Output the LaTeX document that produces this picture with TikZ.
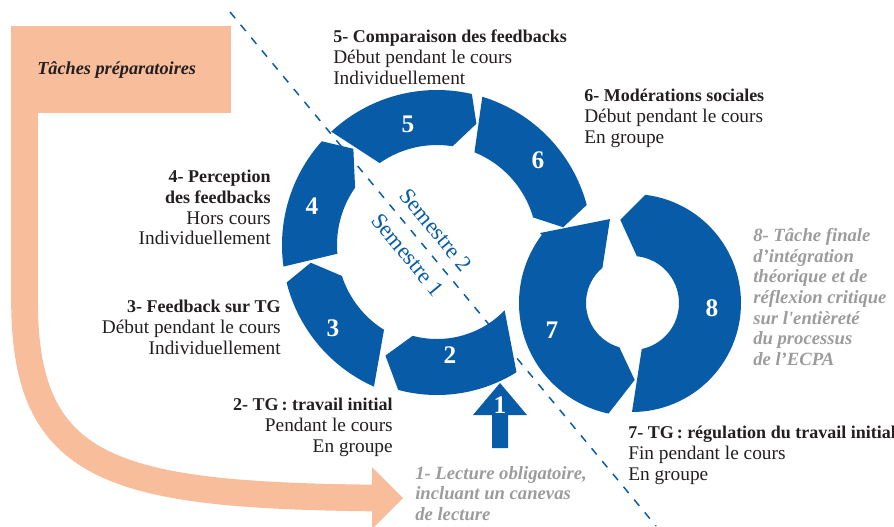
\documentclass[tikz,border=0pt]{standalone}
\usepackage{fontspec}
\setmainfont{Liberation Serif}
\usetikzlibrary{calc}

\definecolor{bleuecpa}{HTML}{075BA7}
\definecolor{saumon}{HTML}{F8BD9B}
\definecolor{grisclair}{HTML}{9D9C9C}
\definecolor{encre}{HTML}{231F20}

\tikzset{
  segment/.style={fill=bleuecpa},
  numero/.style={text=white, inner sep=0pt, font=\bfseries\fontsize{19}{19}\selectfont},
  legende/.style={inner sep=0pt, text=encre, font=\fontsize{14.5}{15.5}\selectfont},
  legendegris/.style={inner sep=0pt, text=grisclair, align=left, font=\bfseries\itshape\fontsize{14}{15.5}\selectfont},
  semestre/.style={text=bleuecpa, rotate=-50.4, inner sep=0pt, font=\fontsize{17}{17}\selectfont},
}

%% ring segment: centre, r in, r out, outer start, outer end, tip, inner end, inner start
\newcommand{\anneau}[8]{%
  \fill[segment] ($(#1)+(#4:#3)$) arc[start angle=#4, end angle=#5, radius=#3]
     -- ($(#1)+(#6:{(#2+#3)/2})$) -- ($(#1)+(#7:#2)$)
     arc[start angle=#7, end angle=#8, radius=#2] -- cycle;}
\newcommand{\titre}[1]{{\bfseries\fontsize{13.5}{15.5}\selectfont #1}}

\begin{document}
\begin{tikzpicture}[x=0.75pt, y=-0.75pt]
  \useasboundingbox (0,0) rectangle (894,526);
  \coordinate (c1) at (437,245);
  \coordinate (c2) at (632,303);

  %% taches preparatoires
  \fill[saumon] (11,26) rectangle (231,113);
  \draw[saumon, line width=20pt] (24.5,100) -- (24.5,300) .. controls (24.5,470) and (110,495) .. (373,498);
  \fill[saumon] (372,467) -- (403,498) -- (372,529) -- cycle;
  \node[anchor=west, inner sep=0pt, text=encre, font=\bfseries\itshape\fontsize{13.7}{15}\selectfont] (prepa) at (37,70) {Tâches préparatoires};

  %% semestres
  \coordinate (semA) at (230,12);
  \coordinate (semB) at (656,526);
  \draw[bleuecpa, line width=1.1pt, dash pattern=on 6pt off 6.5pt] (semA) -- (semB);
  \node[semestre] (sem2) at (436,230) {Semestre 2};
  \node[semestre] (sem1) at (408,255) {Semestre 1};

  %% premier anneau
  \anneau{c1}{94}{150}{58}{105}{115}{105}{44}
  \anneau{c1}{100}{155}{114}{166}{172}{162}{122}
  \anneau{c1}{100}{155}{172}{222}{229}{215}{175}
  \anneau{c1}{100}{155}{227}{283}{288}{279}{235}
  \anneau{c1}{100}{155}{287}{345}{352}{344}{292}

  %% second anneau
  \fill[segment] (540,233) -- (610,219) -- ($(c2)+(230:46)$) arc[start angle=230, end angle=106, radius=46]
     -- ($(c2)+(88:77)$) -- ($(c2)+(102:113)$) arc[start angle=102, end angle=217, radius=113] -- cycle;
  \fill[segment] ($(c2)+(90:109)$) arc[start angle=90, end angle=-83, radius=109]
     -- ($(c2)+(-98:84)$) -- ($(c2)+(-84:47)$) arc[start angle=-84, end angle=78, radius=47] -- cycle;

  %% fleche 1
  \fill[segment] (500,383) -- (527,415) -- (508,415) -- (508,448) -- (492,448) -- (492,415) -- (473,415) -- cycle;

  \node[numero] (n1) at (500,405) {1};
  \node[numero] (n2) at (450,355) {2};
  \node[numero] (n3) at (333,328) {3};
  \node[numero] (n4) at (312,206) {4};
  \node[numero] (n5) at (408,124) {5};
  \node[numero] (n6) at (538,160) {6};
  \node[numero] (n7) at (552,330) {7};
  \node[numero] (n8) at (712,308) {8};

  \node[legende, align=left, anchor=north west] (t5) at (333,30) {\titre{5- Comparaison des feedbacks}\\Début pendant le cours\\Individuellement};
  \node[legende, align=left, anchor=north west] (t6) at (584,89) {\titre{6- Modérations sociales}\\Début pendant le cours\\En groupe};
  \node[legende, align=right, anchor=north east] (t4) at (271,170) {\titre{4- Perception}\\\titre{des feedbacks}\\Hors cours\\Individuellement};
  \node[legende, align=right, anchor=north east] (t3) at (281,300) {\titre{3- Feedback sur TG}\\Début pendant le cours\\Individuellement};
  \node[legende, align=right, anchor=north east] (t2) at (393,398) {\titre{2- TG\,: travail initial}\\Pendant le cours\\En groupe};
  \node[legende, align=left, anchor=north west] (t7) at (628,426) {\titre{7- TG\,: régulation du travail initial}\\Fin pendant le cours\\En groupe};
  \node[legendegris, anchor=north west] (t1) at (415,466) {1- Lecture obligatoire,\\incluant un canevas\\de lecture};
  \node[legendegris, anchor=north west] (t8) at (753,228) {8- Tâche finale\\d’intégration\\théorique et de\\réflexion critique\\sur l\textquotesingle entièreté\\du processus\\de l’ECPA};
\end{tikzpicture}
\end{document}
